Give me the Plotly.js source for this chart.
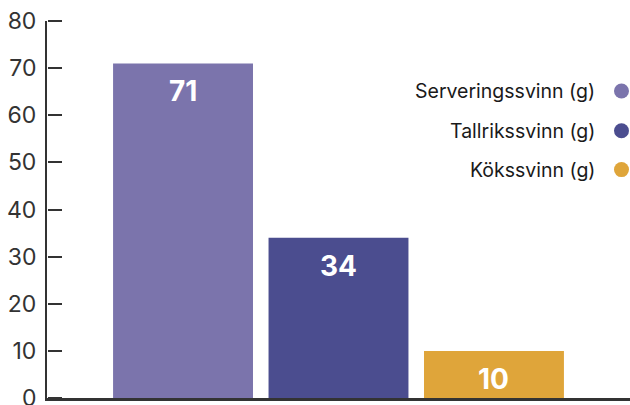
<!DOCTYPE html>
<html><head><meta charset="utf-8">
<script src="https://cdn.plot.ly/plotly-3.0.1.min.js"></script>
<style>html,body{margin:0;padding:0;background:#fff}#c{width:630px;height:405px}</style>
</head><body><div id="c"></div>
<script>
const categories = ["Serveringssvinn (g)", "Tallrikssvinn (g)", "Kökssvinn (g)"];
const values = [71, 34, 10];
const colors = ["#7b74ac", "#4b4d8f", "#dfa53a"];
const yTicks = [0, 10, 20, 30, 40, 50, 60, 70, 80];

const FONT = "Inter, 'Noto Sans', sans-serif";
const legendY = [0.8143, 0.709, 0.6058];

const trace = {
  type: "bar",
  x: categories,
  y: values,
  marker: {color: colors},
  hoverinfo: "none",
  showlegend: false
};
// invisible helper trace on the tick-mark axis
const tickTrace = {
  type: "scatter", x: [categories[0]], y: [values[0]], yaxis: "y2",
  mode: "markers", marker: {opacity: 0}, hoverinfo: "none", showlegend: false
};

const annotations = values.map((v, i) => ({
  x: categories[i], y: v, xref: "x", yref: "y",
  text: String(v), showarrow: false, yshift: -28,
  font: {family: FONT, size: 28, color: "#ffffff", weight: 700}
}));
categories.forEach((c, i) => {
  annotations.push({
    x: 0.9434, y: legendY[i], xref: "paper", yref: "paper",
    xanchor: "right", yanchor: "middle", text: c, showarrow: false,
    font: {family: FONT, size: 19.5, color: "#1a1a1a"}
  });
});
const shapes = categories.map((c, i) => ({
  type: "circle", xref: "paper", yref: "paper",
  xsizemode: "pixel", ysizemode: "pixel",
  xanchor: 0.9854, yanchor: legendY[i],
  x0: -7.5, x1: 7.5, y0: -7.5, y1: 7.5,
  fillcolor: colors[i], line: {width: 0}
}));

const layout = {
  width: 630, height: 405,
  margin: {l: 47, r: 0, t: 20.5, b: 6.5},
  paper_bgcolor: "#fff", plot_bgcolor: "#fff",
  bargap: 0.1,
  showlegend: false,
  font: {family: FONT},
  xaxis: {
    type: "category", range: [-0.875, 2.875],
    showticklabels: false, ticks: "", showgrid: false, zeroline: false,
    showline: true, linecolor: "#333", linewidth: 2.5, fixedrange: true
  },
  yaxis: {
    range: [0, 80], tickvals: yTicks, ticktext: yTicks.map(String),
    ticks: "",
    showline: true, linecolor: "#333", linewidth: 2,
    showgrid: false, zeroline: false,
    tickfont: {family: FONT, size: 23, color: "#333"},
    ticklabelstandoff: 4,
    ticklabeloverflow: "allow"
  },
  yaxis2: {
    overlaying: "y", anchor: "free", position: 0, side: "right",
    range: [0, 80], tickvals: yTicks, showticklabels: false,
    ticks: "outside", ticklen: 14, tickwidth: 2, tickcolor: "#333",
    showline: false, showgrid: false, zeroline: false
  },
  annotations: annotations,
  shapes: shapes
};

Plotly.newPlot("c", [trace, tickTrace], layout, {staticPlot: true, displayModeBar: false});
</script>
</body></html>
